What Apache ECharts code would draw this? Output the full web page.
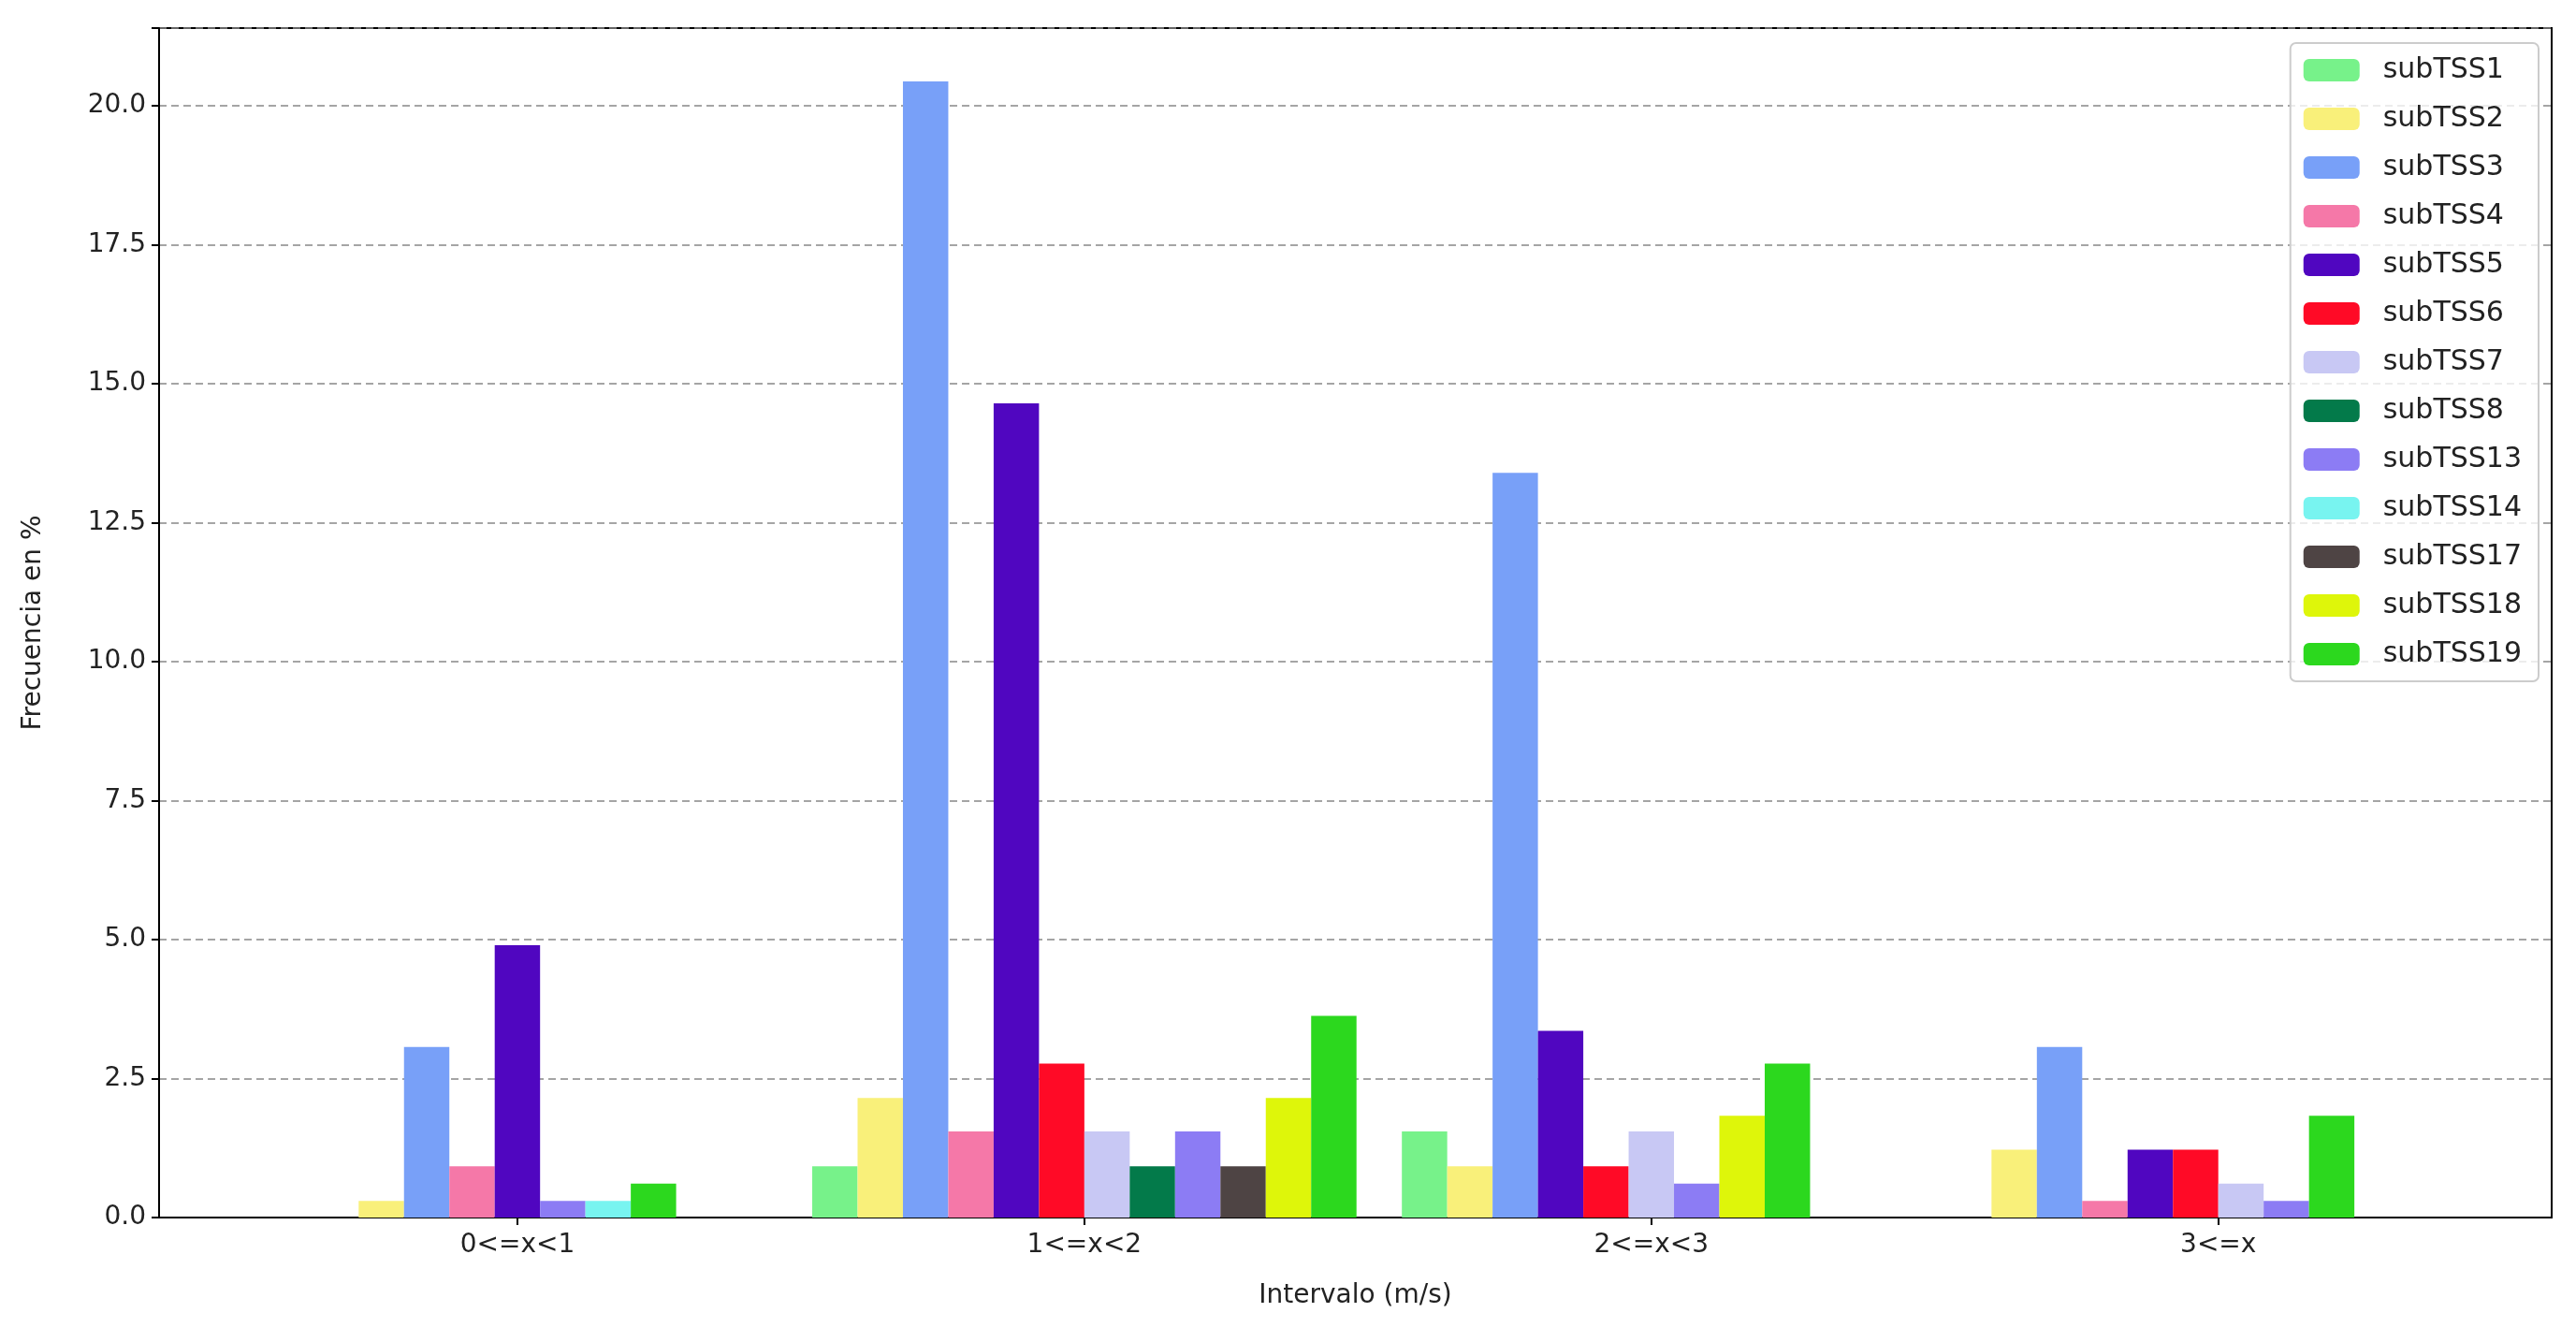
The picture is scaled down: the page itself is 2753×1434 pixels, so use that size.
<!DOCTYPE html>
<html><head><meta charset="utf-8">
<script src="https://cdn.jsdelivr.net/npm/echarts@6/dist/echarts.min.js"></script>
<style>html,body{margin:0;background:#fff}#c{width:2753px;height:1434px}</style>
</head><body><div id="c"></div>
<script>
// intervalos de velocidad
const categories = ['0<=x<1', '1<=x<2', '2<=x<3', '3<=x'];
const seriesNames = ['subTSS1', 'subTSS2', 'subTSS3', 'subTSS4', 'subTSS5', 'subTSS6', 'subTSS7',
    'subTSS8', 'subTSS13', 'subTSS14', 'subTSS17', 'subTSS18', 'subTSS19'];
const colors = ['#77f28a', '#f9f07a', '#78a0f8', '#f578a8', '#5006c0', '#ff0a26', '#c8c8f4',
    '#037a4a', '#8c7cf4', '#78f4f0', '#4e4444', '#def60a', '#2cd81e'];
// null = sin dato en ese intervalo
const subTSS1 = [null, 0.92, 1.55, null];
const subTSS2 = [0.3, 2.15, 0.92, 1.22];
const subTSS3 = [3.07, 20.44, 13.4, 3.07];
const subTSS4 = [0.92, 1.55, null, 0.3];
const subTSS5 = [4.9, 14.65, 3.36, 1.22];
const subTSS6 = [null, 2.77, 0.92, 1.22];
const subTSS7 = [null, 1.55, 1.55, 0.61];
const subTSS8 = [null, 0.92, null, null];
const subTSS13 = [0.3, 1.55, 0.61, 0.3];
const subTSS14 = [0.3, null, 0, 0];
const subTSS17 = [null, 0.92, 0, 0];
const subTSS18 = [null, 2.15, 1.83, null];
const subTSS19 = [0.61, 3.63, 2.77, 1.83];
const allData = [subTSS1, subTSS2, subTSS3, subTSS4, subTSS5, subTSS6, subTSS7,
    subTSS8, subTSS13, subTSS14, subTSS17, subTSS18, subTSS19];
const yTicks = [0, 2.5, 5, 7.5, 10, 12.5, 15, 17.5, 20];

// posicion de cada barra: las de valor cero van al final del grupo
const slotW = 0.08;
const xPos = allData.map(() => []);
categories.forEach((c, g) => {
    let present = 0, rank = 0;
    allData.forEach(d => { if (d[g] !== null) present++; });
    allData.forEach((d, s) => {
        if (d[g] !== null && d[g] > 0) {
            xPos[s][g] = g + (rank - (present - 1) / 2) * slotW;
            rank++;
        }
    });
});

const chart = echarts.init(document.getElementById('c'));
chart.setOption({
    animation: false,
    textStyle: { fontFamily: 'DejaVu Sans' },
    grid: { left: 170, right: 26, top: 30, bottom: 133, show: true, borderColor: '#000', borderWidth: 2 },
    legend: {
        orient: 'vertical', right: 40, top: 46,
        data: seriesNames,
        itemWidth: 60, itemHeight: 24, itemGap: 22,
        padding: [14, 18, 14, 14],
        borderColor: '#ccc', borderWidth: 2, borderRadius: 6,
        backgroundColor: 'rgba(255,255,255,0.8)',
        textStyle: { fontSize: 30, color: '#222', padding: [0, 0, 0, 20] }
    },
    xAxis: {
        type: 'value', min: -0.632, max: 3.588,
        name: 'Intervalo (m/s)', nameLocation: 'middle', nameGap: 70,
        nameTextStyle: { fontSize: 28, color: '#222' },
        axisLine: { show: true, onZero: false, lineStyle: { color: '#000', width: 2 } },
        axisTick: { show: true, customValues: [0, 1, 2, 3], length: 8, lineStyle: { color: '#000', width: 2 } },
        axisLabel: { customValues: [0, 1, 2, 3], fontSize: 28, color: '#222', margin: 16,
            formatter: v => categories[Math.round(v)] },
        splitLine: { show: false }
    },
    yAxis: {
        type: 'value', min: 0, max: 21.4, interval: 2.5,
        name: 'Frecuencia en %', nameLocation: 'middle', nameGap: 120,
        nameTextStyle: { fontSize: 28, color: '#222' },
        axisLine: { show: true, onZero: false, lineStyle: { color: '#000', width: 2 } },
        axisTick: { show: true, length: 8, lineStyle: { color: '#000', width: 2 } },
        axisLabel: { fontSize: 28, color: '#222', margin: 14,
            formatter: v => yTicks.includes(v) ? v.toFixed(1) : '' },
        splitLine: { lineStyle: { color: '#888', type: [8, 5], width: 1.5 } }
    },
    series: seriesNames.map((name, s) => ({
        name, type: 'custom',
        itemStyle: { color: colors[s] },
        data: allData[s].map((v, g) => (v !== null && v > 0) ? [xPos[s][g], v] : null).filter(d => d),
        encode: { x: 0, y: 1 },
        renderItem: (params, api) => {
            const x = api.value(0), y = api.value(1);
            const p0 = api.coord([x - slotW / 2, 0]);
            const p1 = api.coord([x + slotW / 2, y]);
            return {
                type: 'rect',
                shape: { x: p0[0], y: p1[1], width: p1[0] - p0[0], height: p0[1] - p1[1] },
                style: { fill: colors[s] }
            };
        }
    }))
});
</script></body></html>
